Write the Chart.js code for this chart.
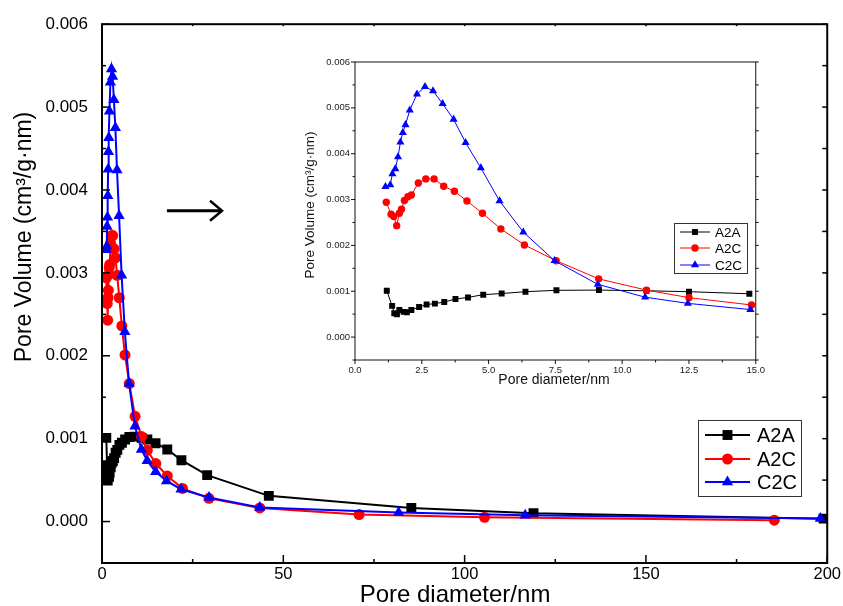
<!DOCTYPE html>
<html>
<head>
<meta charset="utf-8">
<script src="https://cdn.jsdelivr.net/npm/chart.js@4.4.0/dist/chart.umd.min.js"></script>
<style>
  html, body { margin: 0; padding: 0; background: #fff; }
  #wrap { position: relative; width: 843px; height: 606px; }
  #main { position: absolute; left: 0; top: 0; }
  #inset { position: absolute; left: 290px; top: 50px; }
</style>
</head>
<body>
<div id="wrap">
  <canvas id="main" width="843" height="606"></canvas>
  <canvas id="inset" width="480" height="345"></canvas>
</div>
<script>
// values: pore diameter (nm) / pore volume (cm3/g·nm)
const seriesNames = ['A2A', 'A2C', 'C2C'];

const a2aDiam = [1.19, 1.39, 1.47, 1.57, 1.66, 1.82, 1.94, 2.11, 2.40, 2.68, 2.99, 3.34, 3.76, 4.23, 4.80, 5.49, 6.38, 7.54, 9.13, 10.91, 12.50, 14.76, 18.0, 21.9, 29.0, 46.0, 85.3, 119.0, 199.0];
const a2aVol = [0.00101, 0.00068, 0.00052, 0.000495, 0.00059, 0.00055, 0.00054, 0.00059, 0.000655, 0.00071, 0.00073, 0.000765, 0.00083, 0.000865, 0.000925, 0.00095, 0.00099, 0.00102, 0.001025, 0.00101, 0.00099, 0.000945, 0.00087, 0.00074, 0.00056, 0.00031, 0.000164, 0.0001, 0.000035];

const a2cDiam = [1.17, 1.35, 1.45, 1.56, 1.66, 1.74, 1.85, 1.98, 2.11, 2.37, 2.65, 2.96, 3.32, 3.72, 4.19, 4.77, 5.46, 6.34, 7.53, 9.12, 10.91, 12.50, 14.84, 18.0, 22.2, 29.5, 43.5, 70.9, 105.5, 185.4];
const a2cVol = [0.00294, 0.00268, 0.00263, 0.00243, 0.0027, 0.00279, 0.00298, 0.00306, 0.0031, 0.00336, 0.00345, 0.00345, 0.00329, 0.00318, 0.00297, 0.0027, 0.00236, 0.00201, 0.001665, 0.00127, 0.001025, 0.00086, 0.0007, 0.00055, 0.0004, 0.00028, 0.000164, 0.000084, 0.000052, 0.000016];

const c2cDiam = [1.14, 1.32, 1.40, 1.51, 1.61, 1.70, 1.79, 1.89, 2.05, 2.32, 2.62, 2.92, 3.28, 3.69, 4.14, 4.71, 5.41, 6.30, 7.47, 9.09, 10.86, 12.46, 14.8, 17.8, 21.8, 29.5, 43.5, 81.8, 116.7, 198.1];
const c2cVol = [0.00328, 0.00332, 0.00356, 0.00367, 0.00393, 0.00425, 0.00446, 0.00463, 0.00495, 0.0053, 0.00546, 0.00537, 0.00509, 0.00475, 0.00424, 0.00369, 0.00297, 0.00229, 0.001665, 0.00115, 0.00087, 0.000735, 0.0006, 0.00049, 0.00039, 0.00029, 0.00017, 0.00011, 0.000076, 0.000036];

const mainXTicks = [0, 50, 100, 150, 200];
const insetXTicks = [0, 2.5, 5, 7.5, 10, 12.5, 15];
const volTicks = [0, 0.001, 0.002, 0.003, 0.004, 0.005, 0.006];

const FONT = '"Liberation Sans", Arial, sans-serif';
const colors = ['#000000', '#ff0000', '#0000ff'];
const styles = ['rect', 'circle', 'triangle'];

function pts(d, v, maxX) {
    const out = [];
    d.forEach((x, i) => { if (x <= maxX) out.push({ x: x, y: v[i] }); });
    return out;
}

function makeSets(maxX, lineW, radii) {
    const all = [[a2aDiam, a2aVol], [a2cDiam, a2cVol], [c2cDiam, c2cVol]];
    return all.map((s, i) => ({
        label: seriesNames[i],
        data: pts(s[0], s[1], maxX),
        borderColor: colors[i],
        backgroundColor: colors[i],
        pointBackgroundColor: colors[i],
        pointBorderWidth: 0,
        borderWidth: lineW,
        pointStyle: styles[i],
        pointRadius: radii[i],
        tension: 0,
        order: 3 - i
    }));
}

// frame around plot area plus major/minor tick marks
const framePlugin = {
    id: 'frame',
    afterDraw(chart, args, o) {
        const { ctx, chartArea: a, scales: { x, y } } = chart;
        ctx.save();
        ctx.strokeStyle = o.color;
        ctx.lineWidth = o.lineWidth;
        ctx.strokeRect(a.left, a.top, a.right - a.left, a.bottom - a.top);
        const dir = o.inward ? -1 : 1;
        const line = (x1, y1, x2, y2) => { ctx.beginPath(); ctx.moveTo(x1, y1); ctx.lineTo(x2, y2); ctx.stroke(); };
        const marks = (scale, list) => {
            const half = (list[1] - list[0]) / 2;
            const res = [];
            for (let k = Math.ceil(scale.min / half - 1e-6); k * half <= scale.max + 1e-9; k++) {
                res.push({ p: scale.getPixelForValue(k * half), major: k % 2 === 0 });
            }
            return res;
        };
        ctx.lineWidth = o.tickWidth;
        marks(x, o.xTicks).forEach(m => {
            const len = m.major ? o.major : o.minor;
            line(m.p, a.bottom, m.p, a.bottom + dir * len);
            if (o.top) line(m.p, a.top, m.p, a.top - dir * o.top);
        });
        marks(y, o.yTicks).forEach(m => {
            const len = m.major ? o.major : o.minor;
            line(a.left, m.p, a.left - dir * len, m.p);
            if (o.right) line(a.right, m.p, a.right + dir * (o.rightLen || len), m.p);
        });
        ctx.restore();
    }
};

// legend box with line + marker samples
const boxLegend = {
    id: 'boxLegend',
    afterDraw(chart, args, o) {
        const ctx = chart.ctx;
        ctx.save();
        ctx.fillStyle = '#fff';
        ctx.fillRect(o.x, o.y, o.w, o.h);
        ctx.strokeStyle = o.border;
        ctx.lineWidth = 1;
        ctx.strokeRect(o.x + 0.5, o.y + 0.5, o.w, o.h);
        ctx.font = o.font;
        ctx.textBaseline = 'middle';
        chart.data.datasets.forEach((ds, i) => {
            const yy = o.y + o.rows[i];
            ctx.strokeStyle = ds.borderColor;
            ctx.lineWidth = ds.borderWidth;
            ctx.beginPath();
            ctx.moveTo(o.x + o.line[0], yy);
            ctx.lineTo(o.x + o.line[1], yy);
            ctx.stroke();
            ctx.fillStyle = ds.pointBackgroundColor;
            Chart.helpers.drawPoint(ctx, { pointStyle: ds.pointStyle, radius: ds.pointRadius, rotation: 0, borderWidth: 0 },
                o.x + (o.line[0] + o.line[1]) / 2, yy);
            ctx.fillStyle = '#000';
            ctx.fillText(ds.label, o.x + o.textX, yy + 1);
        });
        ctx.restore();
    }
};

// axis titles at fixed spots
const axisTitles = {
    id: 'axisTitles',
    afterDraw(chart, args, o) {
        const ctx = chart.ctx;
        ctx.save();
        ctx.textAlign = 'center';
        ctx.textBaseline = 'middle';
        o.items.forEach(t => {
            ctx.save();
            ctx.font = t.font;
            ctx.fillStyle = t.color || '#000';
            ctx.translate(t.x, t.y);
            if (t.rot) ctx.rotate(t.rot);
            ctx.fillText(t.text, 0, 0);
            ctx.restore();
        });
        ctx.restore();
    }
};

// the arrow pointing to the inset
const arrowPlugin = {
    id: 'arrow',
    afterDraw(chart, args, o) {
        if (!o.from) return;
        const { ctx, scales: { x, y } } = chart;
        const x1 = x.getPixelForValue(o.from[0]), y1 = y.getPixelForValue(o.from[1]);
        const x2 = x.getPixelForValue(o.to[0]), y2 = y.getPixelForValue(o.to[1]);
        ctx.save();
        ctx.strokeStyle = '#000';
        ctx.lineWidth = 3;
        ctx.beginPath();
        ctx.moveTo(x1, y1);
        ctx.lineTo(x2 - 1, y2);
        ctx.stroke();
        ctx.lineWidth = 2.5;
        ctx.beginPath();
        ctx.moveTo(x2 - 12, y2 - 10);
        ctx.lineTo(x2, y2);
        ctx.lineTo(x2 - 12, y2 + 10);
        ctx.stroke();
        ctx.restore();
    }
};

const tickFmt3 = v => (Math.abs(v) < 1e-12 ? 0 : v).toFixed(3);

new Chart(document.getElementById('main'), {
    type: 'line',
    data: { datasets: makeSets(1000, 2, [7, 5.5, 6.5]) },
    plugins: [framePlugin, boxLegend, axisTitles, arrowPlugin],
    options: {
        responsive: false,
        animation: false,
        devicePixelRatio: 1,
        layout: { padding: { left: 0, top: 22, right: 15, bottom: 0 } },
        scales: {
            x: {
                type: 'linear', min: 0, max: 200,
                afterFit: s => { s.height = 43; },
                afterBuildTicks: s => { s.ticks = mainXTicks.map(v => ({ value: v })); },
                grid: { display: false, drawTicks: false },
                border: { display: false },
                ticks: { padding: 2, color: '#000', font: { family: FONT, size: 16.5 }, maxRotation: 0 }
            },
            y: {
                type: 'linear', min: -0.0005, max: 0.006,
                afterFit: s => { s.width = 102; },
                afterBuildTicks: s => { s.ticks = volTicks.map(v => ({ value: v })); },
                grid: { display: false, drawTicks: false },
                border: { display: false },
                ticks: { padding: 14, color: '#000', font: { family: FONT, size: 17 }, callback: tickFmt3 }
            }
        },
        plugins: {
            legend: { display: false },
            tooltip: { enabled: false },
            frame: { color: '#000', lineWidth: 2, tickWidth: 1.5, inward: true, major: 8, minor: 4, top: 2, right: true, rightLen: 5, xTicks: mainXTicks, yTicks: volTicks },
            boxLegend: { x: 698, y: 420, w: 103, h: 76, border: '#333', rows: [15, 39, 62], line: [7, 52], textX: 59, font: '20px ' + FONT },
            axisTitles: { items: [
                { text: 'Pore Volume (cm³/g·nm)', x: 25, y: 237, rot: -Math.PI / 2, font: '23px ' + FONT },
                { text: 'Pore diameter/nm', x: 455, y: 595, font: '24px ' + FONT }
            ] },
            arrow: { from: [17.9, 0.00375], to: [33.1, 0.00375] }
        }
    }
});

new Chart(document.getElementById('inset'), {
    type: 'line',
    data: { datasets: makeSets(15, 1, [4.2, 3.7, 4.7]) },
    plugins: [framePlugin, boxLegend, axisTitles],
    options: {
        responsive: false,
        animation: false,
        devicePixelRatio: 1,
        layout: { padding: { left: 0, top: 12, right: 8, bottom: 0 } },
        scales: {
            x: {
                type: 'linear', min: 0, max: 15,
                afterFit: s => { s.height = 35; },
                afterBuildTicks: s => { s.ticks = insetXTicks.map(v => ({ value: v })); },
                grid: { display: false, drawTicks: false },
                border: { display: false },
                ticks: { padding: 5, color: '#222', font: { family: FONT, size: 9.5 }, maxRotation: 0, callback: v => v.toFixed(1) }
            },
            y: {
                type: 'linear', min: -0.0005, max: 0.006,
                afterFit: s => { s.width = 65; },
                afterBuildTicks: s => { s.ticks = volTicks.map(v => ({ value: v })); },
                grid: { display: false, drawTicks: false },
                border: { display: false },
                ticks: { padding: 5, color: '#222', font: { family: FONT, size: 9.5 }, callback: tickFmt3 }
            }
        },
        plugins: {
            legend: { display: false },
            tooltip: { enabled: false },
            frame: { color: '#111', lineWidth: 1, tickWidth: 1, inward: false, major: 4, minor: 2.5, top: 0, right: true, rightLen: 3, xTicks: insetXTicks, yTicks: volTicks },
            boxLegend: { x: 384, y: 173, w: 73, h: 50, border: '#333', rows: [9, 25, 42], line: [6, 36], textX: 41, font: '13.5px ' + FONT },
            axisTitles: { items: [
                { text: 'Pore Volume (cm³/g·nm)', x: 20, y: 155, rot: -Math.PI / 2, font: '13.5px ' + FONT, color: '#111' },
                { text: 'Pore diameter/nm', x: 264, y: 330, font: '14px ' + FONT, color: '#111' }
            ] }
        }
    }
});
</script>
</body>
</html>
